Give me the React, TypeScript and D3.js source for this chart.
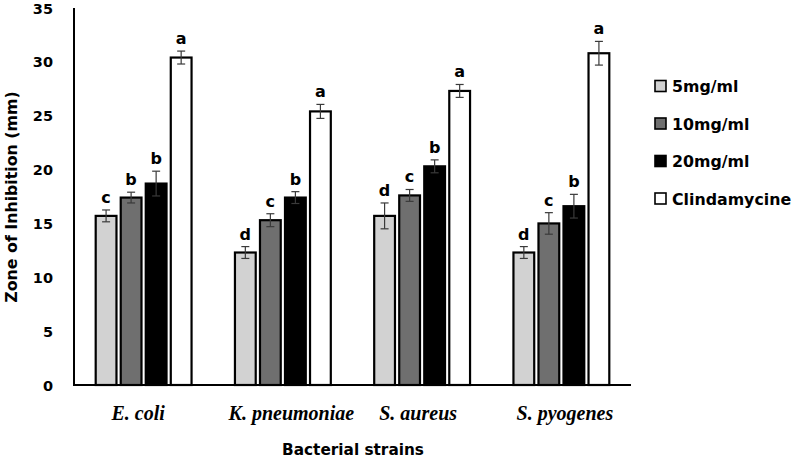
import React from "react";
import * as d3 from "d3";

const categories = ["E. coli", "K. pneumoniae", "S. aureus", "S. pyogenes"];
const seriesNames = ["5mg/ml", "10mg/ml", "20mg/ml", "Clindamycine"];
const v5 = [15.7, 12.3, 15.7, 12.3];
const v10 = [17.4, 15.3, 17.6, 15.0];
const v20 = [18.7, 17.4, 20.3, 16.6];
const vClin = [30.4, 25.4, 27.3, 30.8];
const e5 = [0.55, 0.55, 1.2, 0.55];
const e10 = [0.5, 0.6, 0.55, 1.0];
const e20 = [1.15, 0.55, 0.6, 1.1];
const eClin = [0.6, 0.65, 0.6, 1.1];
const l5 = ["c", "d", "d", "d"];
const l10 = ["b", "c", "c", "c"];
const l20 = ["b", "b", "b", "b"];
const lClin = ["a", "a", "a", "a"];
const yTicks = [0, 5, 10, 15, 20, 25, 30, 35];

const fills = ["#d2d2d2", "#6f6f6f", "#000000", "#ffffff"];
const labelShift = [-5.5, 8.5, -4, 3.5];

export default function App() {
  const W = 794, H = 460;
  const x0 = 74, x1 = 631, yTop = 8, yBot = 385;
  const values = [v5, v10, v20, vClin];
  const errs = [e5, e10, e20, eClin];
  const letters = [l5, l10, l20, lClin];

  const y = d3.scaleLinear().domain([0, 35]).range([yBot, yTop]);
  const xb = d3.scaleBand<string>().domain(categories).range([x0, x1]).paddingInner(0).paddingOuter(0);
  const groupPad = 21.7;
  const xs = d3
    .scaleBand<string>()
    .domain(seriesNames)
    .range([0, xb.bandwidth() - 2 * groupPad])
    .paddingInner(0.17)
    .paddingOuter(0);

  const sans = "'DejaVu Sans', 'Open Sans', sans-serif";
  const serif = "'Liberation Serif', 'Times New Roman', serif";

  return (
    <svg width={W} height={H} style={{ position: "absolute", left: 0, top: 0, background: "#fff" }}>
      <rect x={0} y={0} width={W} height={H} fill="#fff" />
      {categories.map((c, ci) => (
        <g key={c} transform={`translate(${xb(c)! + groupPad},0)`}>
          {seriesNames.map((s, si) => {
            const v = values[si][ci];
            const e = errs[si][ci];
            const bx = xs(s)!;
            const bw = xs.bandwidth();
            const cx = bx + bw / 2;
            return (
              <g key={s}>
                <rect x={bx} y={y(v)} width={bw} height={yBot - y(v)} fill={fills[si]} stroke="#000" strokeWidth={2.2} />
                <line x1={cx} x2={cx} y1={y(v + e)} y2={y(v - e)} stroke="#3a3a3a" strokeWidth={1.2} />
                <line x1={cx - 4} x2={cx + 4} y1={y(v + e)} y2={y(v + e)} stroke="#3a3a3a" strokeWidth={1.2} />
                <line x1={cx - 4} x2={cx + 4} y1={y(v - e)} y2={y(v - e)} stroke="#3a3a3a" strokeWidth={1.2} />
                <text x={cx} y={y(v + e) - 7} textAnchor="middle" fontFamily={sans} fontWeight={700} fontSize={16} fill="#000">
                  {letters[si][ci]}
                </text>
              </g>
            );
          })}
        </g>
      ))}
      <line x1={x0} x2={x0} y1={yTop} y2={yBot} stroke="#000" strokeWidth={2} />
      <line x1={x0 - 1} x2={x1} y1={yBot} y2={yBot} stroke="#000" strokeWidth={2} />
      {yTicks.map((t) => (
        <text key={t} x={53} y={y(t) + 5.5} textAnchor="end" fontFamily={sans} fontWeight={700} fontSize={14.5} fill="#000">
          {t}
        </text>
      ))}
      {categories.map((c, ci) => (
        <text
          key={c}
          x={xb(c)! + xb.bandwidth() / 2 + labelShift[ci]}
          y={420}
          textAnchor="middle"
          fontFamily={serif}
          fontStyle="italic"
          fontWeight={700}
          fontSize={20}
          fill="#000"
        >
          {c}
        </text>
      ))}
      <text x={353} y={455} textAnchor="middle" fontFamily={sans} fontWeight={700} fontSize={15.3} fill="#000">
        Bacterial strains
      </text>
      <text
        transform={`translate(17,197) rotate(-90)`}
        textAnchor="middle"
        fontFamily={sans}
        fontWeight={700}
        fontSize={15.8}
        fill="#000"
      >
        Zone of Inhibition (mm)
      </text>
      {seriesNames.map((s, si) => (
        <g key={s} transform={`translate(655,${86 + si * 37.5})`}>
          <rect x={0} y={-5.5} width={11} height={11} fill={fills[si]} stroke="#000" strokeWidth={1.6} />
          <text x={17} y={6} fontFamily={sans} fontWeight={700} fontSize={15.8} fill="#000">
            {s}
          </text>
        </g>
      ))}
    </svg>
  );
}
